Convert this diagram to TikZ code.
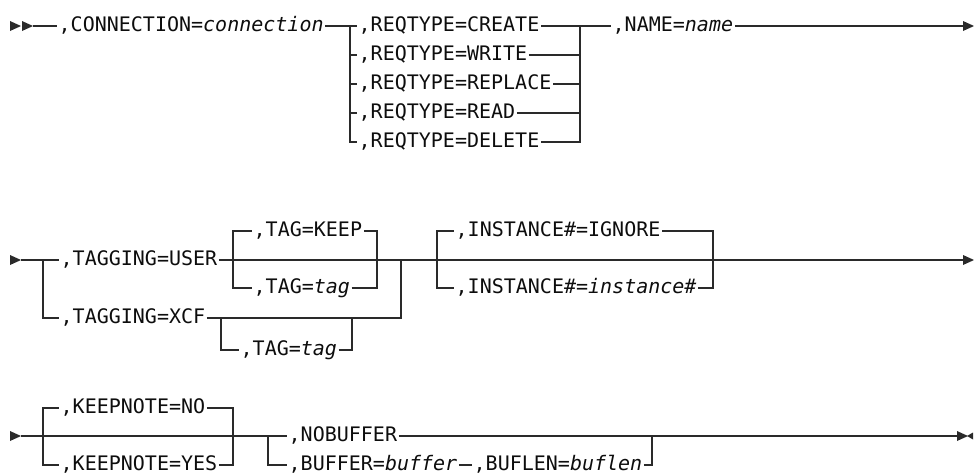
\documentclass[tikz,border=0pt]{standalone}
\usepackage{fontspec}
\setmonofont{DejaVu Sans Mono}
\usepackage{xcolor}
\definecolor{railgray}{HTML}{2A2A2A}
\newcommand{\headtip}[2]{
\fill[railgray](#1,#2-5)--(#1+11,#2)--(#1,#2+5)--cycle;
 }
\newcommand{\tailtip}[2]{
\fill[railgray](#1,#2)--(#1+6,#2-3.5)--(#1+6,#2+3.5)--cycle;
 }
\tikzset{
 rail/.style={draw=railgray, line width=1.35pt},
 kw/.style={anchor=west, inner sep=0pt, inner xsep=1.5pt, text height=12pt, text depth=2pt,
  text=black!95, font=\ttfamily\fontsize{20}{22}\selectfont},
}

\begin{document}
\begin{tikzpicture}[x=1pt,y=-1pt]
\useasboundingbox (0,0) rectangle (974,474);

\headtip{10}{26}
\headtip{22}{26}
\coordinate (r1s) at (33,26);
\node[kw] (conn) at (57,26) {,CONNECTION={\itshape connection}};
\coordinate (q1) at (350,26);
\coordinate (q2) at (580,26);
\node[kw] (create) at (357,26) {,REQTYPE=CREATE};
\node[kw] (write) at (357,55) {,REQTYPE=WRITE};
\node[kw] (replace) at (357,84) {,REQTYPE=REPLACE};
\node[kw] (read) at (357,113) {,REQTYPE=READ};
\node[kw] (delete) at (357,142) {,REQTYPE=DELETE};
\node[kw] (name) at (611,26) {,NAME={\itshape name}};
\coordinate (r1e) at (963,26);
\headtip{963}{26}

\draw[rail] (r1s) -- (conn.west);
\draw[rail] (conn.east) -- (create.west);
\draw[rail] (q1) |- (delete.west);
\draw[rail] (delete.east) -| (q2);
\foreach \n in {write,replace,read}{
 \draw[rail] (q1 |- \n) -- (\n.west);
 \draw[rail] (\n.east) -- (q2 |- \n);
}
\draw[rail] (create.east) -- (name.west);
\draw[rail] (name.east) -- (r1e);

\headtip{10}{260}
\coordinate (r2s) at (21,260);
\coordinate (p1) at (43,260);
\node[kw] (user) at (59,260) {,TAGGING=USER};
\coordinate (t1) at (233,260);
\coordinate (t2) at (377,260);
\node[kw] (keep) at (252,231) {,TAG=KEEP};
\node[kw] (tag1) at (252,288) {,TAG={\itshape tag}};
\coordinate (p2) at (401,260);
\node[kw] (xcf) at (59,318) {,TAGGING=XCF};
\coordinate (x1) at (221,318);
\coordinate (x2) at (352,318);
\node[kw] (tag2) at (239,350) {,TAG={\itshape tag}};
\coordinate (i1) at (437,260);
\coordinate (i2) at (713,260);
\node[kw] (ignore) at (454,231) {,INSTANCE\#=IGNORE};
\node[kw] (inst) at (454,288) {,INSTANCE\#={\itshape instance\#}};
\coordinate (r2e) at (963,260);
\headtip{963}{260}

\draw[rail] (r2s) -- (user.west);
\draw[rail] (user.east) -- (r2e);
\draw[rail] (p1) |- (xcf.west);
\draw[rail] (xcf.east) -| (p2);
\draw[rail] (t1) |- (keep.west);
\draw[rail] (t1) |- (tag1.west);
\draw[rail] (keep.east) -| (t2);
\draw[rail] (tag1.east) -| (t2);
\draw[rail] (x1) |- (tag2.west);
\draw[rail] (tag2.east) -| (x2);
\draw[rail] (i1) |- (ignore.west);
\draw[rail] (i1) |- (inst.west);
\draw[rail] (ignore.east) -| (i2);
\draw[rail] (inst.east) -| (i2);

\headtip{10}{436}
\coordinate (r3s) at (21,436);
\coordinate (k1) at (43,436);
\node[kw] (kno) at (59,408) {,KEEPNOTE=NO};
\node[kw] (kyes) at (59,465) {,KEEPNOTE=YES};
\coordinate (k2) at (233,436);
\coordinate (b1) at (268,436);
\node[kw] (nobuf) at (287,436) {,NOBUFFER};
\node[kw] (buf) at (287,465) {,BUFFER={\itshape buffer}};
\node[kw] (buflen) at (472,465) {,BUFLEN={\itshape buflen}};
\coordinate (b2) at (652,436);
\coordinate (r3e) at (957,436);
\headtip{957}{436}
\tailtip{967}{436}

\draw[rail] (r3s) -- (nobuf.west);
\draw[rail] (nobuf.east) -- (r3e);
\draw[rail] (k1) |- (kno.west);
\draw[rail] (k1) |- (kyes.west);
\draw[rail] (kno.east) -| (k2);
\draw[rail] (kyes.east) -| (k2);
\draw[rail] (b1) |- (buf.west);
\draw[rail] (buf.east) -- (buflen.west);
\draw[rail] (buflen.east) -| (b2);

\end{tikzpicture}
\end{document}
